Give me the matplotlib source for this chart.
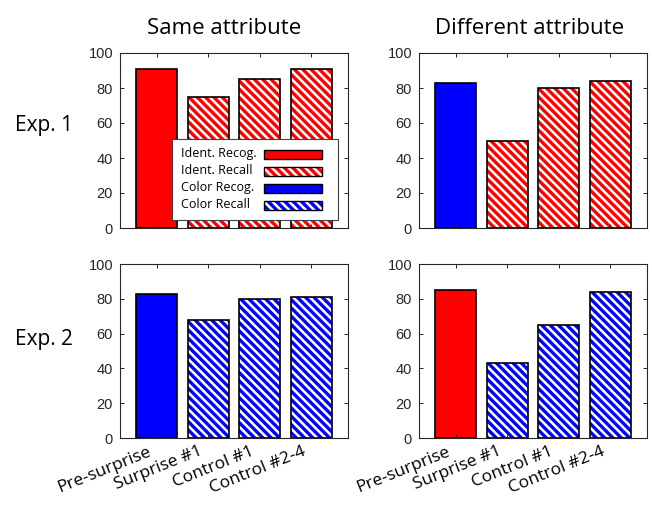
import numpy as np
import matplotlib
matplotlib.use("Agg")
import matplotlib.pyplot as plt
from matplotlib.patches import Rectangle
from matplotlib import transforms

#Bar values (percent)
conditions = ["Pre-surprise", "Surprise #1", "Control #1", "Control #2-4"]
exp1_same = [91, 75, 85, 91]
exp1_diff = [83, 50, 80, 84]
exp2_same = [83, 68, 80, 81]
exp2_diff = [85, 43, 65, 84]
column_titles = ["Same attribute", "Different attribute"]
row_labels = ["Exp. 1", "Exp. 2"]
legend_labels = ["Ident. Recog.", "Ident. Recall", "Color Recog.", "Color Recall"]
yticks = [0, 20, 40, 60, 80, 100]

RED = "#ff0000"
BLUE = "#0000ff"
HATCH = "\\\\\\\\"
plt.rcParams['hatch.linewidth'] = 2.4

#colour of the solid bar and of the hatched bars in each panel
panels = [
    (exp1_same, RED, RED),
    (exp1_diff, BLUE, RED),
    (exp2_same, BLUE, BLUE),
    (exp2_diff, RED, BLUE),
]

W, H = 652, 505
fig = plt.figure(figsize=(W/100, H/100), dpi=100)

#axes boxes in pixels: left, top, right, bottom
boxes = [(120, 53, 348, 228), (419, 53, 647, 228),
         (120, 264, 348, 438), (419, 264, 647, 438)]
title_x = [0.456, 0.487]

x = np.arange(1, len(conditions)+1)
axes = []
for i, (vals, solid, hatched) in enumerate(panels):
    l, t, r, b = boxes[i]
    ax = fig.add_axes([l/W, 1-b/H, (r-l)/W, (b-t)/H])
    axes.append(ax)
    #hatched layer underneath, then the black outline on top
    under = ax.bar(x, vals, width=0.8, color="white", edgecolor=hatched, linewidth=0)
    for j, p in enumerate(under.patches):
        if j == 0:
            p.set_facecolor(solid)
            p.set_edgecolor(solid)
        else:
            p.set_hatch(HATCH)
    ax.bar(x, vals, width=0.8, fill=False, edgecolor="black", linewidth=1.2)
    ax.set_xlim(0.285, 4.715)
    ax.set_ylim(0, 100)
    ax.set_yticks(yticks)
    ax.set_xticks(x)
    ax.tick_params(direction="in", length=3, width=0.7, color="#262626",
                   top=True, right=True, labelsize=10.5, labelcolor="#262626", pad=5)
    for s in ax.spines.values():
        s.set_color("#262626")
        s.set_linewidth(0.8)
    for lab in ax.get_yticklabels():
        lab.set_fontfamily("Liberation Sans")
    if i < 2:
        ax.set_xticklabels([])
        ax.set_title(column_titles[i], fontsize=16, family="Open Sans", pad=13.5, x=title_x[i])
    else:
        ax.tick_params(axis="x", pad=4)
        shift = transforms.ScaledTranslation(-9/100, 0, fig.dpi_scale_trans)
        ax.set_xticklabels(conditions, rotation=22, ha="right", va="top",
                           rotation_mode="anchor", fontsize=12.5, family="Open Sans",
                           color="black")
        for lab in ax.get_xticklabels():
            lab.set_transform(lab.get_transform() + shift)

fig.text(15/W, 1-126/H, row_labels[0], fontsize=15, family="Open Sans", va="center", ha="left")
fig.text(15/W, 1-339/H, row_labels[1], fontsize=15, family="Open Sans", va="center", ha="left")

#legend drawn by hand so the labels sit left-aligned with the swatches on the right
ax0 = axes[0]
def ax_xy(px, py):
    l, t, r, b = boxes[0]
    return (px-l)/(r-l), (b-py)/(b-t)

x0, y0 = ax_xy(172, 220)
x1, y1 = ax_xy(338, 139)
ax0.add_patch(Rectangle((x0, y0), x1-x0, y1-y0, transform=ax0.transAxes,
                        facecolor="white", edgecolor="#404040", linewidth=0.8, zorder=5))
legend_fill = [(RED, None), (RED, RED), (BLUE, None), (BLUE, BLUE)]
for k, lab in enumerate(legend_labels):
    cy = 154 + k*17
    tx, ty = ax_xy(181, cy)
    ax0.text(tx, ty, lab, transform=ax0.transAxes, family="Open Sans", fontsize=9,
             va="center", ha="left", zorder=6)
    hx0, hy0 = ax_xy(264, cy+4.5)
    hx1, hy1 = ax_xy(322, cy-4.5)
    fc, hc = legend_fill[k]
    if hc is None:
        ax0.add_patch(Rectangle((hx0, hy0), hx1-hx0, hy1-hy0, transform=ax0.transAxes,
                                facecolor=fc, edgecolor="black", linewidth=1, zorder=6))
    else:
        ax0.add_patch(Rectangle((hx0, hy0), hx1-hx0, hy1-hy0, transform=ax0.transAxes,
                                facecolor="white", edgecolor=hc, hatch=HATCH, linewidth=0, zorder=6))
        ax0.add_patch(Rectangle((hx0, hy0), hx1-hx0, hy1-hy0, transform=ax0.transAxes,
                                facecolor="none", edgecolor="black", linewidth=1, zorder=7))

fig.savefig("out.png", dpi=100)
